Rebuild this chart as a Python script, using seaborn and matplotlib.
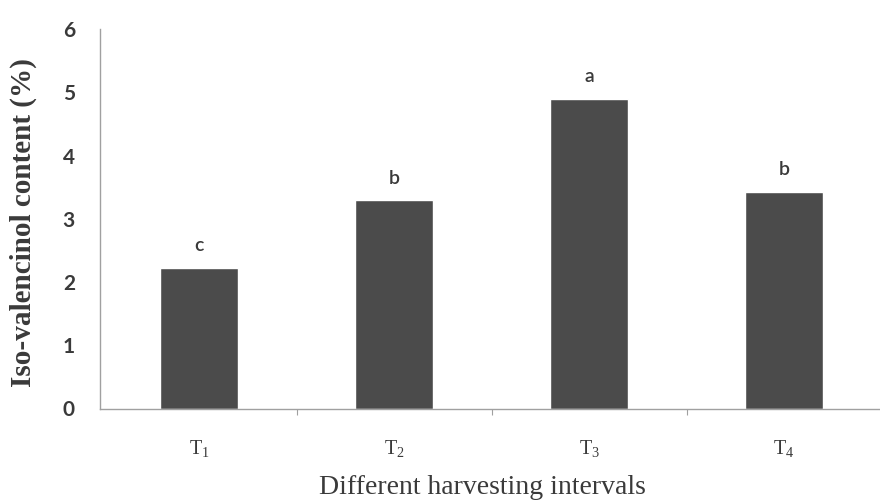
import matplotlib
matplotlib.use("Agg")
import matplotlib.pyplot as plt
import seaborn as sns
import pandas as pd
from matplotlib.ticker import FixedLocator

# Iso-valencinol content for each harvesting interval
treatments = ["T1", "T2", "T3", "T4"]
tick_labels = ["T$_1$", "T$_2$", "T$_3$", "T$_4$"]
content = [2.22, 3.29, 4.90, 3.43]
groups = ["c", "b", "a", "b"]

df = pd.DataFrame({"treatment": treatments, "content": content})

sns.set_theme(style="white")
plt.rcParams["mathtext.fontset"] = "custom"
plt.rcParams["mathtext.rm"] = "Liberation Serif"
plt.rcParams["mathtext.it"] = "Liberation Serif"

fig = plt.figure(figsize=(8.8, 5.0), dpi=100)
ax = fig.add_axes([0.1136, 0.183, 0.888, 0.759])

bar_color = "#4b4b4b"
sns.barplot(data=df, x="treatment", y="content", color=bar_color,
            width=0.40, saturation=1, ax=ax, errorbar=None)

ax.set_xlim(-0.51, 3.5)
ax.set_ylim(0, 6)
ax.set_yticks(range(0, 7))

for side in ("top", "right"):
    ax.spines[side].set_visible(False)
for side in ("left", "bottom"):
    ax.spines[side].set_color("#a0a0a0")
    ax.spines[side].set_linewidth(1.0)

# y ticks: small outward marks, bold sans labels
ax.tick_params(axis="y", which="major", direction="out", length=4, width=0.8,
               color="#a0a0a0", pad=14, labelsize=15, labelcolor="#3a3a3a")
for lab in ax.get_yticklabels():
    lab.set_fontfamily("Lato")
    lab.set_fontweight("bold")

# x ticks: labels at bar centres, marks on the category boundaries
ax.set_xticks(range(len(treatments)))
ax.set_xticklabels(tick_labels)
ax.tick_params(axis="x", which="major", length=0, pad=21, labelsize=14.5,
               labelcolor="#3a3a3a")
for lab in ax.get_xticklabels():
    lab.set_fontfamily("Liberation Serif")
ax.xaxis.set_minor_locator(FixedLocator([0.5, 1.5, 2.5]))
ax.tick_params(axis="x", which="minor", direction="out", length=4, width=0.8,
               color="#a0a0a0", bottom=True)

ax.set_xlabel("Different harvesting intervals", fontfamily="Liberation Serif",
              fontsize=20, color="#3a3a3a")
ax.xaxis.set_label_coords(0.49, -0.175)
ax.set_ylabel("Iso-valencinol content (%)", fontfamily="Liberation Serif",
              fontweight="bold", fontsize=21, color="#3a3a3a")
ax.yaxis.set_label_coords(-0.081, 0.49)

# significance letters above the bars
for i, (val, g) in enumerate(zip(content, groups)):
    ax.annotate(g, (i, val), xytext=(0, 10), textcoords="offset points",
                ha="center", va="bottom", fontsize=14, fontfamily="Lato",
                fontweight="semibold", color="#3a3a3a")

fig.savefig("out.png", dpi=100, facecolor="white")
